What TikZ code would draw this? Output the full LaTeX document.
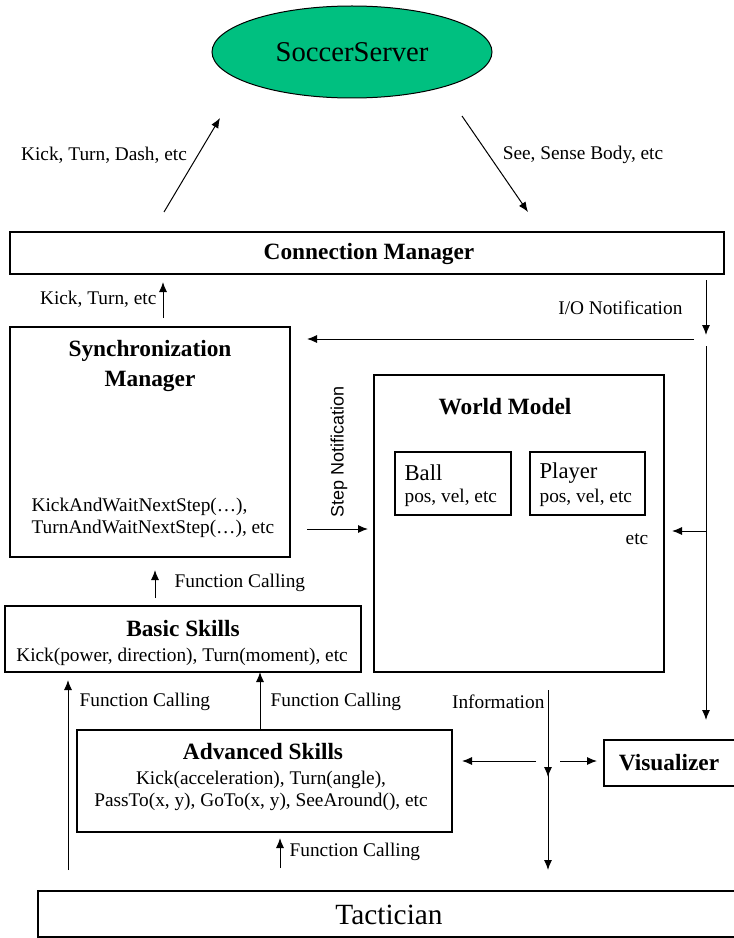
\documentclass[tikz,border=0pt]{standalone}
\usepackage{fontspec}
\setmainfont{Liberation Serif}
\newfontfamily\arialfont{Liberation Sans}
\usetikzlibrary{shapes.geometric,fit,arrows.meta}
\definecolor{servergreen}{RGB}{0,192,128}

\begin{document}
\begin{tikzpicture}[x=0.75pt,y=-0.75pt,
  box/.style={draw, line width=1pt, inner sep=0pt},
  arr/.style={draw, line width=0.75pt, ->, >={Latex[length=7.5pt,width=6pt]}},
  lbl/.style={font=\fontsize{14.5}{16.5}\selectfont, inner sep=1pt},
  title/.style={font=\fontsize{17.5}{23}\selectfont\bfseries, inner sep=0pt}]
\useasboundingbox (0,0) rectangle (733,938);

\node[draw, ellipse, fill=servergreen, line width=0.75pt, minimum width=210pt, minimum height=69pt,
  font=\fontsize{21.5}{24}\selectfont] (server) at (352,52) {SoccerServer};

\node[box, fit={(10,232) (724,274)}] (conn) {};
\node[title] (conntext) at (369,254) {Connection Manager};

\node[box, fit={(10,327) (290,557)}] (sync) {};
\node[title, align=center] (synctext) at (150,366) {Synchronization\\Manager};
\node[lbl, align=left, anchor=west] (synccalls) at (30,518) {KickAndWaitNextStep(\ldots),\\ TurnAndWaitNextStep(\ldots), etc};

\node[box, fit={(374,375) (664,672)}] (world) {};
\node[title] (worldtext) at (505,407) {World Model};
\node[box, fit={(395,452) (511,515)}] (ball) {};
\node[lbl, anchor=west] (balltext) at (403,473) {\fontsize{17}{19}\selectfont Ball};
\node[lbl, anchor=west] (ballvars) at (403,498) {pos, vel, etc};
\node[box, fit={(530,452) (645,515)}] (player) {};
\node[lbl, anchor=west] (playertext) at (538,473) {\fontsize{17}{19}\selectfont Player};
\node[lbl, anchor=west] (playervars) at (538,498) {pos, vel, etc};
\node[lbl] (worldetc) at (637,539) {etc};

\node[box, fit={(5,606) (361,672)}] (basic) {};
\node[title] (basictext) at (183,629) {Basic Skills};
\node[lbl] (basiccalls) at (182,657) {Kick(power, direction), Turn(moment), etc};

\node[box, fit={(77,730) (452,832)}] (advanced) {};
\node[title] (advtext) at (263,752) {Advanced Skills};
\node[lbl, align=center] (advcalls) at (261,791) {Kick(acceleration), Turn(angle),\\ PassTo(x, y), GoTo(x, y), SeeAround(), etc};

\node[box, fit={(604,740) (745,786)}] (visual) {};
\node[title] (visualtext) at (669,763) {Visualizer};

\node[box, fit={(38,891) (745,937)}] (tactician) {};
\node[font=\fontsize{22}{26}\selectfont] (tactext) at (389,915) {Tactician};

% server <-> connection manager
\coordinate (kicktail) at (164,212);
\coordinate (kickhead) at (220,118);
\coordinate (seetail) at (462,116);
\coordinate (seehead) at (528,212);
\path[arr] (kicktail) -- (kickhead);
\path[arr] (seetail) -- (seehead);
\node[lbl] (kicklbl) at (104,155) {Kick, Turn, Dash, etc};
\node[lbl] (seelbl) at (583,155) {See, Sense Body, etc};

% connection manager <-> sync manager
\coordinate (synctop) at (163,318);
\coordinate (connbot) at (163,282);
\path[arr] (synctop) -- (connbot);
\node[lbl, anchor=east] (synclbl) at (158,299) {Kick, Turn, etc};

\coordinate (iotail) at (706,280);
\coordinate (iohead) at (706,335);
\path[arr] (iotail) -- (iohead);
\node[lbl, anchor=east] (iolbl) at (684,308) {I/O Notification};
\coordinate (iosplit) at (694,339);
\coordinate (syncin) at (307,339);
\path[arr] (iosplit) -- (syncin);
\coordinate (iodown) at (706,346);
\coordinate (visin) at (706,720);
\path[arr] (iodown) -- (visin);
\coordinate (worldrail) at (706,531);
\coordinate (worldin) at (672,531);
\path[arr] (worldrail) -- (worldin);

% sync manager -> world model
\coordinate (steptail) at (307,529);
\coordinate (stephead) at (368,529);
\path[arr] (steptail) -- (stephead);
\node[font=\arialfont\fontsize{13.5}{15}\selectfont, rotate=90] (steplbl) at (339,452) {Step Notification};

% skill calls
\coordinate (basictop) at (155,598);
\coordinate (syncbot) at (155,570);
\path[arr] (basictop) -- (syncbot);
\node[lbl, anchor=west] (calllbla) at (173,583) {Function Calling};

\coordinate (tacleft) at (68,870);
\coordinate (basicleft) at (68,680);
\path[arr] (tacleft) -- (basicleft);
\node[lbl, anchor=west] (calllblb) at (78,702) {Function Calling};

\coordinate (advtop) at (260,730);
\coordinate (basicbot) at (260,672);
\path[arr] (advtop) -- (basicbot);
\node[lbl, anchor=west] (calllblc) at (269,702) {Function Calling};

\coordinate (tacmid) at (280,868);
\coordinate (advbot) at (280,838);
\path[arr] (tacmid) -- (advbot);
\node[lbl, anchor=west] (calllbld) at (288,852) {Function Calling};

% world model information
\coordinate (hub) at (548,761);
\coordinate (worldout) at (548,690);
\path[arr] (worldout) -- ([yshift=-12]hub);
\node[lbl, anchor=east] (infolbl) at (546,702) {Information};
\path[arr] ([xshift=-9]hub) -- (462,761);
\path[arr] ([xshift=9]hub) -- (597,761);
\path[arr] ([yshift=13]hub) -- (548,870);
\end{tikzpicture}
\end{document}
